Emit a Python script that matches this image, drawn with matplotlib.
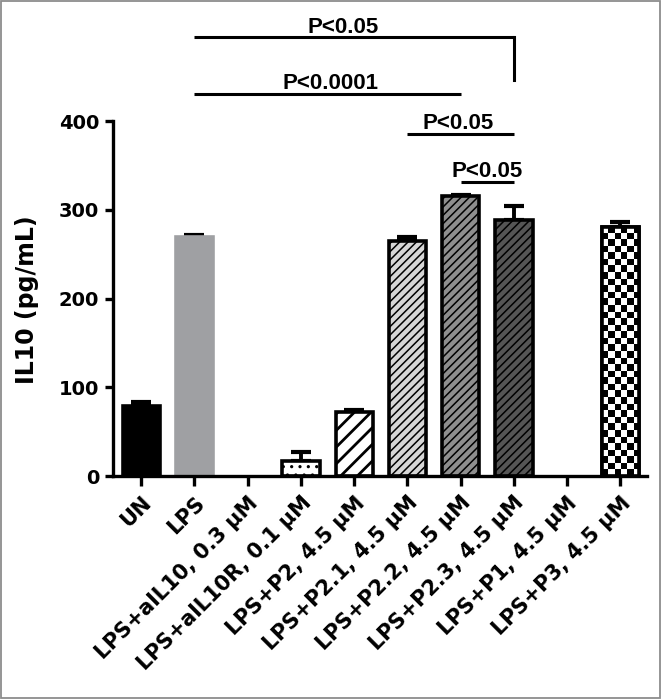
import numpy as np
import matplotlib
matplotlib.use("Agg")
import matplotlib.pyplot as plt
from matplotlib.patches import Rectangle

# ---- data ----
categories = ["UN", "LPS", "LPS+aIL10, 0.3 \u03bcM", "LPS+aIL10R, 0.1 \u03bcM",
              "LPS+P2, 4.5 \u03bcM", "LPS+P2.1, 4.5 \u03bcM", "LPS+P2.2, 4.5 \u03bcM",
              "LPS+P2.3, 4.5 \u03bcM", "LPS+P1, 4.5 \u03bcM", "LPS+P3, 4.5 \u03bcM"]
values = [79, 269, 0, 17, 72, 265, 316, 289, 0, 281]
errors = [4, 3, 0, 10, 2, 5, 1, 15, 0, 5]
yticks = [0, 100, 200, 300, 400]

sig_left = [1, 1, 5, 6]
sig_right = [7, 6, 7, 7]
sig_y = [495, 431, 386, 332]
sig_drop = [447, None, None, None]
sig_text = ["P<0.05", "P<0.0001", "P<0.05", "P<0.05"]
sig_text_x = [3.8, 3.55, 5.95, 6.5]

# ---- styles ----
faces = ["black", "#9fa0a3", "white", "white", "white", "#d6d6d6", "#8e8e8e", "#555555", "white", "white"]
edges = ["black", "#9fa0a3", "black", "black", "black", "black", "black", "black", "black", "black"]
hatches = [None, None, None, "..", "//", "////", "////", "////", None, None]
checker = [False] * 9 + [True]

plt.rcParams["font.family"] = ["DejaVu Sans"]
plt.rcParams["font.weight"] = "bold"
plt.rcParams["hatch.linewidth"] = 1.2

fig = plt.figure(figsize=(6.63, 6.99), dpi=100)
ax = fig.add_axes([113 / 663, 1 - 476 / 699, (647 - 113) / 663, (476 - 6) / 699])

x = np.arange(len(categories))
w = 0.70
edge_lw = 2.6
for i in range(len(categories)):
    if values[i] <= 0:
        continue
    hlw = 2.0 if hatches[i] == "//" else 1.1
    b = ax.bar(x[i], values[i], width=w, color=faces[i], edgecolor=edges[i],
               linewidth=edge_lw, hatch=hatches[i], zorder=2)
    if hatches[i] is not None:
        for p in b.patches:
            if hasattr(p, "set_hatch_linewidth"):
                p.set_hatch_linewidth(hlw)
    if checker[i]:
        sq_x, sq_y = 0.122, 7.33
        nc = max(1, int(round(w / sq_x)))
        nr = max(1, int(round(values[i] / sq_y)))
        pat = (np.add.outer(np.arange(nr), np.arange(nc)) % 2).astype(float)
        im = ax.imshow(pat, cmap="gray", vmin=0, vmax=1, aspect="auto",
                       interpolation="nearest", origin="lower",
                       extent=(x[i] - w / 2, x[i] + w / 2, 0, values[i]), zorder=2.5)
        im.set_clip_path(b.patches[0])
        ax.bar(x[i], values[i], width=w, color="none", edgecolor="black",
               linewidth=edge_lw, zorder=3)

vals = np.array(values, dtype=float)
errs = np.array(errors, dtype=float)
m = vals > 0
ax.errorbar(x[m], vals[m], yerr=[np.zeros(m.sum()), errs[m]], fmt="none",
            ecolor="black", elinewidth=2.8, capsize=7.5, capthick=3.0, zorder=1.5)

ax.set_xlim(-0.53, 9.5)
ax.set_ylim(0, 530)
ax.set_yticks(yticks)
ax.set_xticks(x)
ax.set_xticklabels(categories, rotation=45, ha="right", va="top",
                   rotation_mode="anchor", fontsize=15, fontweight="bold")
ax.tick_params(axis="y", labelsize=14, width=2.4, length=6, pad=4)
ax.tick_params(axis="x", width=2.4, length=7, pad=5)
for lab in ax.get_yticklabels():
    lab.set_fontweight("bold")

for s in ["top", "right"]:
    ax.spines[s].set_visible(False)
ax.spines["left"].set_linewidth(2.4)
ax.spines["bottom"].set_linewidth(2.4)
ax.spines["left"].set_bounds(0, 400)

for i in range(len(sig_text)):
    ax.plot([sig_left[i], sig_right[i]], [sig_y[i], sig_y[i]], color="black",
            lw=2.2, clip_on=False, solid_capstyle="butt")
    if sig_drop[i] is not None:
        ax.plot([sig_right[i], sig_right[i]], [sig_y[i], sig_drop[i]], color="black",
                lw=2.2, clip_on=False, solid_capstyle="projecting")
    ax.text(sig_text_x[i], sig_y[i] + 5, sig_text[i], ha="center", va="baseline",
            fontsize=16, fontweight="bold", family=["Liberation Sans", "DejaVu Sans"])

fig.text(27 / 663, 1 - 300 / 699, "IL10 (pg/mL)", rotation=90, ha="center",
         va="center", fontsize=17, fontweight="bold")

fig.patches.append(Rectangle((0.8 / 663, 1.5 / 699), (660 - 0.8) / 663, (698 - 1.5) / 699,
                             transform=fig.transFigure, fill=False,
                             edgecolor="#8c8c8c", lw=1.3))

fig.savefig("out.png", dpi=100)
